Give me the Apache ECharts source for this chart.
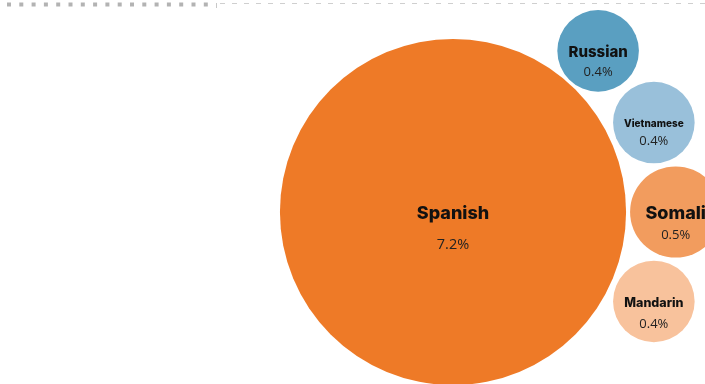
<!DOCTYPE html>
<html><head><meta charset="utf-8">
<script src="https://cdn.jsdelivr.net/npm/echarts@6/dist/echarts.min.js"></script>
<style>html,body{margin:0;padding:0;background:#fff}#c{width:705px;height:384px}</style>
</head><body><div id="c"></div>
<script>
// Data
const languages = ['Spanish', 'Russian', 'Vietnamese', 'Somali', 'Mandarin'];
const shares = [7.2, 0.4, 0.4, 0.5, 0.4];

// Styles / layout (not data)
const colors = ['#EE7A27', '#5A9FC1', '#99C0DA', '#F29C5E', '#F8C29C'];
const nameSizes = [18, 15, 10, 18, 12.5];
const pctSizes = [14.5, 13, 13, 13, 13];
const gaps = [31, 20, 17, 22, 21];
const scaleK = 64.5;                 // radius per sqrt(percent)
const mainCenter = [453, 212];
const angles = [null, 48, 24, 0, -24];  // degrees around the main bubble
const pads = [0, 3, 6, 4, 6];

const radius = v => scaleK * Math.sqrt(v);
const R0 = radius(shares[0]);
const points = languages.map((name, i) => {
  let x = mainCenter[0], y = mainCenter[1];
  if (i > 0) {
    const d = R0 + radius(shares[i]) + pads[i];
    const a = angles[i] * Math.PI / 180;
    x = mainCenter[0] + d * Math.cos(a);
    y = mainCenter[1] - d * Math.sin(a);
  }
  return {
    name: name,
    value: [x, y, shares[i]],
    symbolSize: 2 * radius(shares[i]),
    itemStyle: { color: colors[i], opacity: 1 },
    label: {
      show: true,
      position: 'inside',
      offset: [0, gaps[i] / 2 + 1.5],
      formatter: '{n|' + name + '}\n{p|' + shares[i].toFixed(1) + '%}',
      rich: {
        n: { fontFamily: 'Inter', fontWeight: 800, fontSize: nameSizes[i], color: '#111', lineHeight: gaps[i] },
        p: { fontFamily: 'Open Sans', fontWeight: 'normal', fontSize: pctSizes[i], color: '#222', lineHeight: gaps[i] }
      }
    }
  };
});

const chart = echarts.init(document.getElementById('c'), null, { renderer: 'canvas' });
chart.setOption({
  animation: false,
  grid: { left: 0, right: 0, top: 0, bottom: 0 },
  xAxis: { type: 'value', min: 0, max: 705, show: false },
  yAxis: { type: 'value', min: 0, max: 384, inverse: true, show: false },
  graphic: [
    { type: 'line', shape: { x1: 7, y1: 4.5, x2: 214, y2: 4.5 },
      style: { stroke: '#b3b3b3', lineWidth: 4, lineDash: [4, 8.3] }, silent: true },
    { type: 'line', shape: { x1: 216.5, y1: 3, x2: 216.5, y2: 8 },
      style: { stroke: '#c8c8c8', lineWidth: 1 }, silent: true },
    { type: 'line', shape: { x1: 220, y1: 3.5, x2: 705, y2: 3.5 },
      style: { stroke: '#cfcfcf', lineWidth: 1, lineDash: [5, 7] }, silent: true }
  ],
  series: [{
    type: 'scatter',
    data: points,
    itemStyle: { opacity: 1 },
    emphasis: { disabled: true }
  }]
});
</script></body></html>
